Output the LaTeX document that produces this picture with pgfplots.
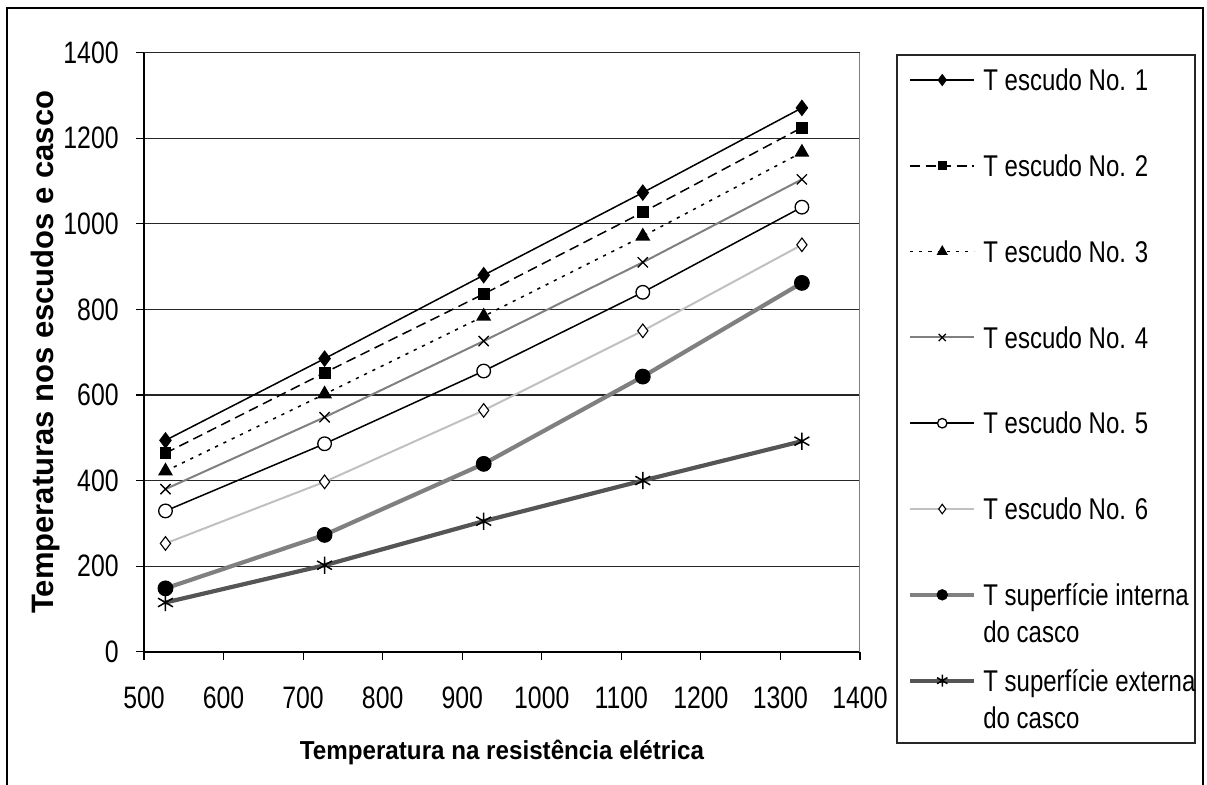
\documentclass[border=0pt]{standalone}
\usepackage{pgfplots}
\pgfplotsset{compat=1.18}
\usepackage{fontspec}
\setmainfont{Liberation Sans}
\newfontfamily\tickfont[FakeStretch=0.8]{Liberation Sans}
\newfontfamily\labfont[FakeStretch=0.93]{Liberation Sans}
\definecolor{gA}{HTML}{808080}
\definecolor{gB}{HTML}{C0C0C0}
\definecolor{gC}{HTML}{555555}
\pgfplotsset{
  my legend image/.style={
    legend image code/.code={\draw[mark repeat=2,mark phase=2,##1] plot coordinates {(0pt,0pt) (16.1pt,0pt) (32.2pt,0pt)};}
  }
}
\begin{document}
\begin{tikzpicture}
\useasboundingbox (0,0) rectangle (603.5pt,392pt);
\draw[line width=0.75pt] (3.5pt,-5pt) -- (3.5pt,388pt) -- (601.5pt,388pt) -- (601.5pt,-5pt);
\draw[line width=0.75pt, black!85] (448.5pt,20.5pt) rectangle (597.5pt,364.5pt);
\begin{axis}[
  at={(72pt,66.15pt)}, anchor=south west,
  scale only axis, width=358pt, height=299.5pt,
  xmin=500, xmax=1400, ymin=0, ymax=1400,
  xtick distance=100, ytick distance=200,
  axis x line*=bottom, axis y line*=left,
  x axis line style={line width=1pt,-},
  y axis line style={line width=0.75pt,-},
  tick align=outside, major tick length=4pt,
  tick style={black, line width=0.6pt},
  ymajorgrids, major grid style={black!85, line width=0.55pt},
  /pgf/number format/assume math mode=true,
  /pgf/number format/1000 sep={},
  xticklabel style={font=\tickfont\fontsize{15.5}{18}\selectfont, anchor=north, inner sep=0pt, yshift=-13.15pt},
  yticklabel style={font=\tickfont\fontsize{15.5}{18}\selectfont, anchor=east, inner sep=0pt, xshift=-8.5pt},
  xlabel={Temperatura na resistência elétrica},
  ylabel={Temperaturas nos escudos e casco},
  xlabel style={font=\labfont\bfseries\fontsize{13}{16}\selectfont, at={(axis description cs:0.5,-0.1796)}, anchor=base},
  ylabel style={font=\bfseries\fontsize{15.5}{18}\selectfont, at={(axis description cs:-0.1266,0.5)}, anchor=base},
  my legend image,
  every legend image post/.style={every mark/.append style={scale=0.7}},
  legend cell align=left,
  legend style={draw=none, fill=none, at={(1.0670,0.9723)}, anchor=north west,
    inner sep=0pt, outer sep=0pt, row sep=32.16pt, column sep=3.4pt,
    font=\tickfont\fontsize{15}{18.5}\selectfont,
    nodes={inner sep=0pt, text height=10.74pt, text depth=0pt}},
]
\draw[gA, line width=0.75pt] (rel axis cs:1,0) -- (rel axis cs:1,1);
\addplot[black, line width=0.75pt, mark=diamond*, mark size=3.6pt, mark options={solid, fill=black}]
  coordinates {(527,494) (727,685) (927,880) (1127,1073) (1327,1271)};
\addlegendentry{T escudo No. 1}
\addplot[black, line width=0.75pt, dash pattern=on 5pt off 2.8pt, mark=square*, mark size=2.6pt, mark options={solid, fill=black}]
  coordinates {(527,464) (727,652) (927,836) (1127,1027) (1327,1225)};
\addlegendentry{T escudo No. 2}
\addplot[black, line width=0.75pt, dash pattern=on 1.6pt off 3pt, mark=triangle*, mark size=3.6pt, mark options={solid, fill=black}]
  coordinates {(527,422) (727,602) (927,784) (1127,971) (1327,1167)};
\addlegendentry{T escudo No. 3}
\addplot[gA, line width=1pt, mark=x, mark size=3.6pt, mark options={solid, black, line width=0.65pt}]
  coordinates {(527,380) (727,548) (927,726) (1127,910) (1327,1104)};
\addlegendentry{T escudo No. 4}
\addplot[black, line width=0.75pt, mark=*, mark size=3.4pt, mark options={solid, fill=white, draw=black, line width=0.65pt}]
  coordinates {(527,329) (727,486) (927,656) (1127,840) (1327,1039)};
\addlegendentry{T escudo No. 5}
\addplot[gB, line width=1pt, mark=diamond*, mark size=3.4pt, mark options={solid, fill=white, draw=black, line width=0.55pt}]
  coordinates {(527,253) (727,397) (927,564) (1127,750) (1327,951)};
\addlegendentry{T escudo No. 6}
\addplot[gA, line width=2.1pt, mark=*, mark size=3.7pt, mark options={solid, fill=black, draw=black, line width=0.5pt}]
  coordinates {(527,148) (727,273) (927,439) (1127,643) (1327,862)};
\addlegendentry{\begin{tabular}[t]{@{}l@{}}T superfície interna\\do casco\end{tabular}}
\addplot[gC, line width=2.1pt, mark=asterisk, mark size=4.3pt, mark options={solid, black, line width=0.75pt}]
  coordinates {(527,115) (727,202) (927,305) (1127,400) (1327,492)};
\addlegendentry{\begin{tabular}[t]{@{}l@{}}T superfície externa\\do casco\end{tabular}}
\end{axis}
\end{tikzpicture}
\end{document}
